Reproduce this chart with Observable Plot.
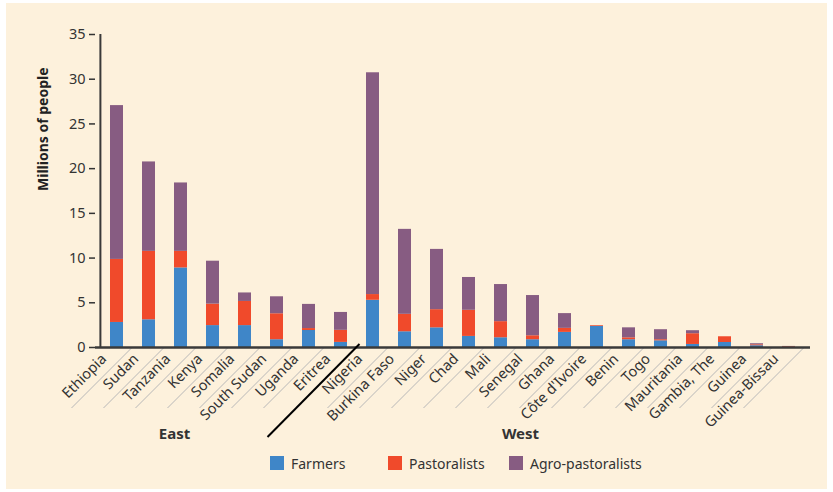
<!DOCTYPE html>
<html>
<head>
<meta charset="utf-8">
<script src="https://cdn.jsdelivr.net/npm/d3@7"></script>
<script src="https://cdn.jsdelivr.net/npm/@observablehq/plot@0.6"></script>
<style>
  html, body { margin: 0; padding: 0; background: #ffffff; }
  #panel { position: absolute; left: 6px; top: 3px; width: 821px; height: 486px; background: #fdf1dc; font-family: "Noto Sans", sans-serif; }
  #legend { position: absolute; left: 264px; top: 450px; display: flex; font-size: 14px; color: #333; }
  .item { display: flex; align-items: center; height: 20px; }
  .sw { width: 14px; height: 14px; margin-right: 7px; }
</style>
</head>
<body>
<div id="panel"><div id="chart"></div><div id="legend"></div></div>
<script>
const countries = ["Ethiopia","Sudan","Tanzania","Kenya","Somalia","South Sudan","Uganda","Eritrea",
  "Nigeria","Burkina Faso","Niger","Chad","Mali","Senegal","Ghana","Côte d'Ivoire","Benin","Togo",
  "Mauritania","Gambia, The","Guinea","Guinea-Bissau"];
const farmers      = [2.8, 3.1, 8.9, 2.45, 2.45, 0.87, 1.9, 0.57, 5.28, 1.76, 2.2, 1.24, 1.09, 0.87, 1.69, 2.36, 0.87, 0.75, 0.34, 0.56, 0.2, 0.03];
const pastoralists = [7.05, 7.65, 1.85, 2.4, 2.7, 2.9, 0.22, 1.35, 0.64, 1.95, 2.03, 2.92, 1.8, 0.44, 0.45, 0.08, 0.21, 0.12, 1.2, 0.64, 0.1, 0.07];
const agro         = [17.2, 10.0, 7.65, 4.8, 0.95, 1.9, 2.7, 2.0, 24.8, 9.5, 6.74, 3.67, 4.15, 4.5, 1.65, 0, 1.12, 1.12, 0.34, 0, 0.12, 0.02];
const groups = ["Farmers", "Pastoralists", "Agro-pastoralists"];
const colors = ["#3f86c8", "#f04a2b", "#875c82"];
const regionNames = ["East", "West"];
const regionAnchors = ["Tanzania", "Senegal"];
const lastEast = "Eritrea";
const yTicks = [0, 5, 10, 15, 20, 25, 30, 35];

const series = [farmers, pastoralists, agro];
const data = [];
countries.forEach((c, i) => groups.forEach((g, j) => data.push({country: c, group: g, value: series[j][i]})));

const font = "Noto Sans, sans-serif";
const plot = Plot.plot({
  width: 821,
  height: 445,
  marginLeft: 89,
  marginRight: 17,
  marginTop: 31,
  marginBottom: 101,
  style: {background: "transparent", fontFamily: font, fontSize: "14px", color: "#333"},
  x: {domain: countries, paddingInner: 0.6, paddingOuter: 0.3, label: null},
  y: {domain: [0, 35], label: null},
  color: {domain: groups, range: colors},
  marks: [
    Plot.barY(data, {x: "country", y: "value", fill: "group", order: groups}),
    Plot.axisY({ticks: yTicks, tickSize: 6, tickPadding: 4, fontSize: 14.5, stroke: "#333", fill: "#333", strokeWidth: 1.5, label: null}),
    Plot.axisX({tickRotate: -45, tickSize: 0, tickPadding: 6, dx: -13, dy: 3, fontSize: 14.5, fill: "#333", label: null}),
    Plot.ruleY([0], {stroke: "#3a3a3a", strokeWidth: 2.5}),
    Plot.text(["Millions of people"], {frameAnchor: "left", rotate: -90, dx: -52, fontWeight: "bold", fontSize: 14, fill: "#222"})
  ]
});
document.getElementById("chart").appendChild(plot);

// axis line, diagonal separators and region labels, positioned with the plot's own scales
const xs = plot.scale("x"), ys = plot.scale("y");
const svg = d3.select(plot);
const y0 = ys.apply(0), yTop = ys.apply(35);
const left = xs.apply(countries[0]) - xs.step * xs.paddingOuter;
svg.append("line").attr("x1", left).attr("x2", left).attr("y1", y0).attr("y2", yTop)
  .attr("stroke", "#3a3a3a").attr("stroke-width", 2);
const g = svg.insert("g", ":first-child");
countries.forEach(c => {
  const b = xs.apply(c) + xs.bandwidth / 2 + xs.step / 2;
  if (c === lastEast) {
    svg.append("line").attr("x1", b + 3).attr("y1", y0 - 3).attr("x2", b - 89).attr("y2", y0 + 90)
      .attr("stroke", "#000").attr("stroke-width", 2);
  } else {
    g.append("line").attr("x1", b).attr("y1", y0).attr("x2", b - 61).attr("y2", y0 + 61)
      .attr("stroke", "#b8b8b8").attr("stroke-width", 1);
  }
});
const shifts = [-6, -12];
regionNames.forEach((name, i) => {
  svg.append("text").attr("x", xs.apply(regionAnchors[i]) + xs.bandwidth / 2 + shifts[i]).attr("y", y0 + 88)
    .attr("text-anchor", "middle").attr("dominant-baseline", "middle")
    .attr("font-weight", "bold").attr("font-size", 15).attr("fill", "#333").text(name);
});

const legend = document.getElementById("legend");
const widths = [118, 121, null];
groups.forEach((gname, i) => {
  const it = document.createElement("div");
  it.className = "item";
  if (widths[i]) it.style.width = widths[i] + "px";
  it.innerHTML = `<span class="sw" style="background:${colors[i]}"></span><span>${gname}</span>`;
  legend.appendChild(it);
});
</script>
</body>
</html>
